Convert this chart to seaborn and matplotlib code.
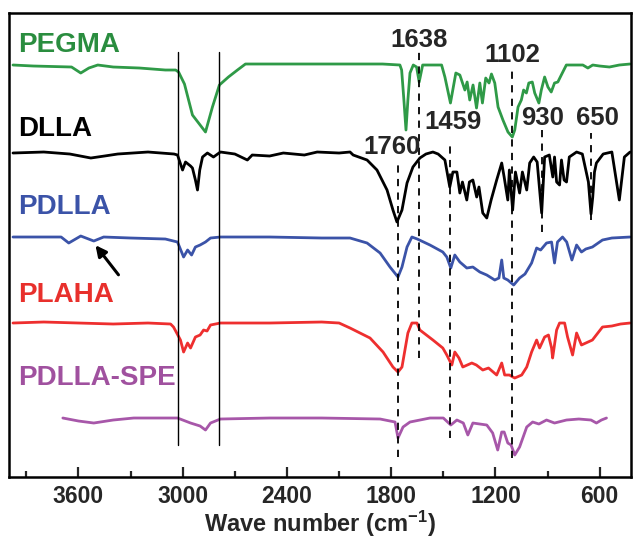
import matplotlib
matplotlib.use("Agg")
import matplotlib.pyplot as plt
from matplotlib.ticker import MultipleLocator
import numpy as np
import pandas as pd
import seaborn as sns

# FTIR spectra (relative transmittance, baseline = 0)
pegma_wn = [3977, 3860, 3640, 3587, 3540, 3489, 3400, 3250, 3100, 3041, 3024, 2990, 2944, 2869, 2829,
            2789, 2737, 2685, 2639, 2000, 1850, 1750, 1740, 1727, 1715, 1704, 1692, 1673, 1654, 1639,
            1619, 1510, 1491, 1459, 1428, 1405, 1376, 1363, 1348, 1329, 1309, 1290, 1275, 1256, 1237,
            1223, 1204, 1185, 1157, 1128, 1103, 1089, 1070, 1051, 1038, 1022, 1008, 988, 974, 950,
            936, 917, 898, 879, 860, 841, 821, 792, 697, 668, 640, 601, 544, 487, 425]
pegma_t = [-1, -2, -3, -9, -4, -1, -3, -4, -6, -6, -8, -20, -51, -68, -43,
           -21, -13, -6, 0, 0, 0, -1, -6, -36, -66, -36, -9, -1, -3, -18,
           -1, -1, -13, -39, -9, -11, -26, -18, -36, -21, -44, -19, -39, -14, -19,
           -10, -19, -43, -56, -68, -73, -66, -43, -36, -26, -29, -19, -18, -29, -39,
           -26, -13, -23, -28, -19, -18, -11, -1, -1, -4, -1, -2, -3, -1, 0]

dlla_wn = [3977, 3800, 3650, 3529, 3450, 3374, 3200, 3050, 3030, 3001, 2984, 2955, 2944, 2927, 2915,
           2902, 2886, 2858, 2823, 2783, 2700, 2628, 2600, 2500, 2421, 2300, 2226, 2100, 2037, 2019,
           1939, 1882, 1824, 1790, 1767, 1738, 1709, 1675, 1635, 1600, 1560, 1530, 1491, 1463, 1445,
           1422, 1405, 1390, 1365, 1350, 1330, 1308, 1295, 1273, 1250, 1225, 1193, 1164, 1150, 1129,
           1120, 1101, 1085, 1061, 1045, 1020, 1003, 980, 960, 934, 917, 890, 870, 860, 848,
           831, 820, 805, 791, 775, 733, 700, 665, 650, 640, 630, 619, 580, 530, 487,
           458, 425]
dlla_t = [-1, 0, -2, -6, -4, -2, 0, -2, -3, -18, -10, -14, -16, -28, -38,
          -18, -5, -1, -5, 0, -2, -8, -3, -4, -1, -3, 0, -1, 0, -3,
          -8, -18, -38, -58, -70, -58, -31, -15, -6, -2, 0, -2, -8, -35, -20,
          -20, -41, -30, -48, -30, -28, -45, -35, -61, -66, -48, -28, -11, -25, -48,
          -18, -58, -20, -41, -20, -38, -11, -5, -10, -61, -5, -3, -25, -5, -30,
          -33, -8, -28, -30, -5, 0, -2, -30, -62, -45, -20, -11, -2, 0, -48,
          -5, 0]

pdlla_wn = [3977, 3700, 3656, 3587, 3512, 3455, 3300, 3100, 3030, 2995, 2972, 2949, 2927, 2900, 2869,
            2840, 2783, 2500, 2200, 2037, 1939, 1864, 1807, 1761, 1738, 1709, 1681, 1650, 1577, 1503,
            1480, 1457, 1434, 1405, 1365, 1330, 1290, 1250, 1204, 1180, 1164, 1152, 1129, 1095, 1061,
            1030, 992, 963, 940, 906, 877, 860, 843, 814, 790, 760, 733, 705, 680, 642,
            584, 530, 425]
pdlla_t = [0, 0, -6, 1, -4, 0, -1, -2, -5, -20, -13, -18, -10, -8, -5,
           -1, 0, 0, -1, -1, -6, -16, -30, -40, -30, -10, 0, -2, -8, -15,
           -20, -31, -18, -25, -31, -30, -35, -38, -43, -41, -23, -41, -43, -48, -41,
           -37, -26, -11, -13, -6, -5, -26, -5, 0, -5, -23, -8, -15, -12, -10,
           -3, -1, 0]

plaha_wn = [3977, 3800, 3600, 3400, 3200, 3070, 3053, 3013, 2995, 2972, 2955, 2927, 2900, 2880, 2860,
            2840, 2783, 2500, 2200, 2100, 2037, 1922, 1847, 1790, 1761, 1738, 1704, 1681, 1652, 1635,
            1560, 1503, 1480, 1451, 1434, 1410, 1388, 1336, 1310, 1273, 1240, 1193, 1164, 1147, 1120,
            1089, 1049, 1020, 992, 963, 946, 917, 895, 877, 871, 848, 831, 802, 785, 756,
            733, 705, 642, 584, 530, 480, 425]
plaha_t = [0, 1, 0, -1, 0, -1, -4, -17, -29, -20, -25, -14, -12, -7, -8,
           -2, 0, 0, 1, 0, -5, -15, -29, -44, -49, -44, -10, 0, 0, -7,
           -17, -25, -32, -42, -29, -35, -44, -40, -42, -47, -45, -52, -40, -52, -52,
           -55, -52, -44, -29, -17, -25, -14, -12, -25, -35, -7, 0, 0, -14, -32,
           -10, -22, -17, -4, -3, -1, 0]

spe_wn = [3690, 3600, 3512, 3400, 3282, 3030, 2955, 2900, 2869, 2840, 2783, 2500, 2200, 1864, 1778,
          1761, 1732, 1692, 1577, 1500, 1457, 1422, 1385, 1359, 1330, 1250, 1216, 1187, 1164, 1150,
          1129, 1110, 1089, 1061, 1020, 986, 950, 906, 860, 791, 720, 650, 619, 590, 561]
spe_t = [0, -3, -5, -2, 0, 0, -5, -8, -12, -5, -1, 0, 0, -1, -4,
         -20, -9, -4, 0, 0, -7, -2, -5, -17, -5, -7, -15, -32, -14, -14,
         -25, -27, -37, -29, -9, -4, -6, -2, -5, -2, -1, -2, -5, -2, 0]

names = ["PEGMA", "DLLA", "PDLLA", "PLAHA", "PDLLA-SPE"]
wns = [pegma_wn, dlla_wn, pdlla_wn, plaha_wn, spe_wn]
ts = [pegma_t, dlla_t, pdlla_t, plaha_t, spe_t]
offsets = [413, 325, 240, 154, 59]
line_colors = ["#2f9a47", "#000000", "#3b53a8", "#ee2f2f", "#a757a9"]
label_colors = ["#2a8d3f", "#000000", "#3b53a8", "#e8302c", "#a0519f"]
label_y = [432, 348, 270, 182, 99]

# marked bands
solid_bands = [3025, 2790]
dashed_bands = [1760, 1638, 1459, 1102, 930, 650]
dashed_top = [317, 430, 332, 410, 347, 344]
dashed_bottom = [20, 119, 39, 19, 245, 257]
band_labels = ["1760", "1638", "1459", "1102", "930", "650"]
band_label_x = [1796, 1640, 1446, 1101, 930, 613]
band_label_y = [330, 437, 355, 422, 359, 359]

sns.set_style("ticks")
plt.rcParams['font.family'] = ['Liberation Sans', 'DejaVu Sans']
plt.rcParams['font.weight'] = 'bold'
plt.rcParams['mathtext.fontset'] = 'custom'
plt.rcParams['mathtext.rm'] = 'Liberation Sans:bold'
plt.rcParams['mathtext.default'] = 'rm'

fig = plt.figure(figsize=(6.33, 5.42), dpi=100)
ax = fig.add_axes([0.0142, 0.1199, 0.9826, 0.8561])

for name, wn, t, off, c in zip(names, wns, ts, offsets, line_colors):
    df = pd.DataFrame({"wn": wn, "y": np.array(t) + off})
    sns.lineplot(data=df, x="wn", y="y", color=c, lw=2.0, ax=ax, sort=False)

for wn in solid_bands:
    ax.plot([wn, wn], [32, 425], color="black", lw=1.0)
for wn, y0, y1 in zip(dashed_bands, dashed_top, dashed_bottom):
    ax.plot([wn, wn], [y1, y0], color="black", lw=1.3, ls=(0, (4, 3.5)))

for lab, x, y in zip(band_labels, band_label_x, band_label_y):
    ax.text(x, y, lab, ha="center", va="center", fontsize=18.5, fontweight="bold")

for name, y, c in zip(names, label_y, label_colors):
    ax.text(3945, y, name, ha="left", va="center", fontsize=20, fontweight="bold", color=c)

ax.annotate("", xy=(3512, 234), xytext=(3360, 200),
            arrowprops=dict(arrowstyle="-|>", color="black", lw=2.2, mutation_scale=16))

ax.set_xlim(4000, 420)
ax.set_ylim(0, 464)
ax.xaxis.set_major_locator(MultipleLocator(600))
ax.xaxis.set_minor_locator(MultipleLocator(300))
ax.tick_params(axis="x", which="major", direction="in", length=7, width=1.6, labelsize=16.5, pad=6)
ax.tick_params(axis="x", which="minor", direction="in", length=4, width=1.6)
ax.set_yticks([])
ax.set_ylabel("")
ax.set_xlabel("Wave number (cm$^{-1}$)", fontsize=17, fontweight="bold", labelpad=0)
for s in ax.spines.values():
    s.set_linewidth(1.8)
    s.set_color("black")

fig.savefig("out.png", dpi=100)
